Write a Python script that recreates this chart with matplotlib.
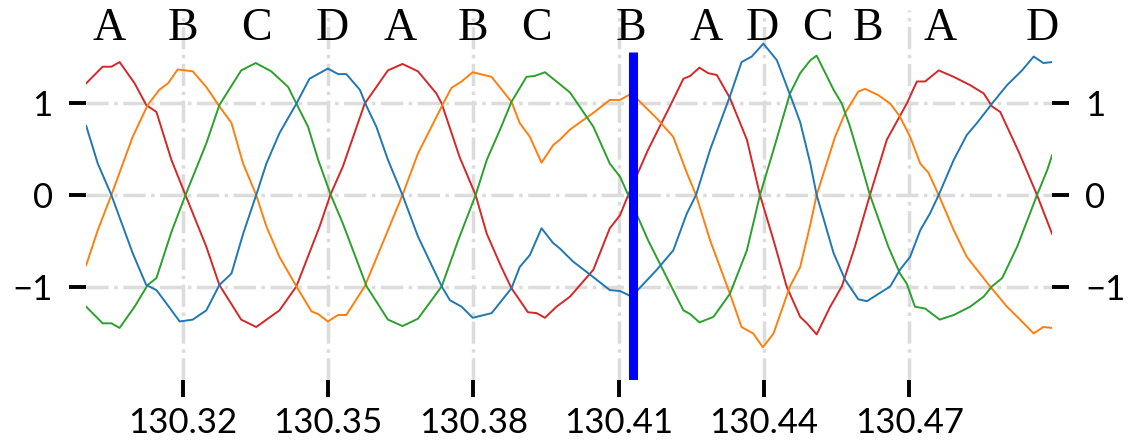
import numpy as np
import matplotlib.pyplot as plt

# phase A (red)
a_x = [130.3001, 130.3035, 130.3053, 130.3070, 130.3101, 130.3125, 130.3146, 130.3177, 130.3206,
       130.3249, 130.3276, 130.3321, 130.3352, 130.3400, 130.3435, 130.3483, 130.3505, 130.3531,
       130.3576, 130.3624, 130.3654, 130.3686, 130.3724, 130.3735, 130.3772, 130.3805, 130.3828,
       130.3858, 130.3879, 130.3913, 130.3931, 130.3948, 130.3972, 130.4000, 130.4048, 130.4082,
       130.4103, 130.4120, 130.4161, 130.4206, 130.4234, 130.4248, 130.4267, 130.4285, 130.4303,
       130.4330, 130.4365, 130.4392, 130.4420, 130.4447, 130.4475, 130.4489, 130.4509, 130.4537,
       130.4561, 130.4588, 130.4619, 130.4654, 130.4695, 130.4716, 130.4733, 130.4761, 130.4792,
       130.4826, 130.4854, 130.4871, 130.4888, 130.4926, 130.4964, 130.4995]
a_y = [1.21, 1.39, 1.39, 1.44, 1.21, 0.975, 0.90, 0.38, 0.0,
       -0.56, -0.975, -1.35, -1.43, -1.25, -0.99, -0.34, 0.0, 0.31,
       0.99, 1.35, 1.42, 1.34, 1.10, 0.99, 0.41, 0.0, -0.42,
       -0.78, -1.01, -1.27, -1.28, -1.33, -1.21, -1.10, -0.81, -0.36,
       -0.22, 0.0, 0.49, 0.96, 1.26, 1.29, 1.38, 1.32, 1.30,
       1.05, 0.60, 0.0, -0.49, -0.99, -1.32, -1.39, -1.51, -1.21,
       -0.99, -0.56, 0.0, 0.60, 0.99, 1.23, 1.23, 1.35, 1.28,
       1.19, 1.10, 0.96, 0.90, 0.47, 0.0, -0.42]

# phase B (orange)
b_x = [130.3001, 130.3025, 130.3053, 130.3097, 130.3128, 130.3152, 130.3170, 130.3190, 130.3221,
       130.3249, 130.3276, 130.3301, 130.3325, 130.3352, 130.3373, 130.3400, 130.3435, 130.3466,
       130.3480, 130.3500, 130.3521, 130.3538, 130.3576, 130.3621, 130.3654, 130.3686, 130.3738,
       130.3755, 130.3776, 130.3799, 130.3838, 130.3879, 130.3896, 130.3917, 130.3941, 130.3965,
       130.3979, 130.4000, 130.4048, 130.4082, 130.4103, 130.4127, 130.4179, 130.4213, 130.4241,
       130.4260, 130.4289, 130.4330, 130.4354, 130.4378, 130.4398, 130.4420, 130.4454, 130.4475,
       130.4496, 130.4509, 130.4547, 130.4568, 130.4595, 130.4609, 130.4637, 130.4661, 130.4681,
       130.4702, 130.4723, 130.4740, 130.4761, 130.4792, 130.4819, 130.4867, 130.4902, 130.4929,
       130.4957, 130.4977, 130.4995]
b_y = [-0.76, -0.38, 0.0, 0.63, 0.975, 1.14, 1.21, 1.36, 1.34,
       1.17, 0.96, 0.78, 0.34, 0.0, -0.34, -0.67, -0.99, -1.26,
       -1.29, -1.37, -1.30, -1.30, -0.99, -0.42, 0.0, 0.45, 0.99,
       1.16, 1.23, 1.33, 1.28, 1.01, 0.78, 0.63, 0.35, 0.54,
       0.60, 0.71, 0.89, 1.03, 1.03, 1.10, 0.83, 0.63, 0.24,
       0.0, -0.49, -1.07, -1.43, -1.50, -1.65, -1.50, -0.99, -0.78,
       -0.32, 0.0, 0.63, 0.89, 1.12, 1.15, 1.08, 0.99, 0.85,
       0.63, 0.34, 0.24, 0.0, -0.38, -0.67, -0.99, -1.21, -1.35,
       -1.50, -1.43, -1.44]

# phase C (green)
c_x = [130.3001, 130.3035, 130.3053, 130.3070, 130.3101, 130.3128, 130.3146, 130.3177, 130.3206,
       130.3249, 130.3276, 130.3321, 130.3351, 130.3383, 130.3418, 130.3435, 130.3459, 130.3480,
       130.3506, 130.3531, 130.3580, 130.3624, 130.3654, 130.3686, 130.3735, 130.3769, 130.3805,
       130.3828, 130.3858, 130.3879, 130.3910, 130.3927, 130.3948, 130.3972, 130.4000, 130.4048,
       130.4082, 130.4103, 130.4120, 130.4161, 130.4206, 130.4234, 130.4248, 130.4267, 130.4296,
       130.4330, 130.4365, 130.4392, 130.4420, 130.4454, 130.4475, 130.4496, 130.4509, 130.4544,
       130.4561, 130.4578, 130.4606, 130.4619, 130.4657, 130.4681, 130.4695, 130.4712, 130.4733,
       130.4763, 130.4792, 130.4826, 130.4854, 130.4871, 130.4892, 130.4923, 130.4964, 130.4985,
       130.4995]
c_y = [-1.21, -1.39, -1.39, -1.44, -1.21, -0.975, -0.90, -0.40, 0.0,
       0.56, 0.975, 1.35, 1.43, 1.34, 1.17, 0.99, 0.74, 0.38,
       0.0, -0.31, -0.99, -1.35, -1.42, -1.34, -0.99, -0.49, 0.0,
       0.38, 0.74, 1.01, 1.28, 1.29, 1.33, 1.23, 1.11, 0.74,
       0.34, 0.20, 0.0, -0.49, -0.96, -1.25, -1.29, -1.38, -1.32,
       -1.07, -0.60, 0.0, 0.49, 1.10, 1.32, 1.46, 1.51, 1.14,
       0.99, 0.74, 0.24, 0.0, -0.56, -0.85, -0.96, -1.21, -1.23,
       -1.35, -1.30, -1.21, -1.10, -0.99, -0.90, -0.56, 0.0, 0.27,
       0.43]

# phase D (blue)
d_x = [130.3001, 130.3025, 130.3053, 130.3097, 130.3125, 130.3146, 130.3166, 130.3194, 130.3221,
       130.3249, 130.3276, 130.3301, 130.3325, 130.3352, 130.3373, 130.3400, 130.3435, 130.3462,
       130.3476, 130.3500, 130.3521, 130.3538, 130.3566, 130.3580, 130.3600, 130.3624, 130.3654,
       130.3686, 130.3735, 130.3752, 130.3776, 130.3799, 130.3838, 130.3879, 130.3896, 130.3917,
       130.3941, 130.3965, 130.3979, 130.4006, 130.4048, 130.4082, 130.4103, 130.4127, 130.4179,
       130.4213, 130.4241, 130.4260, 130.4289, 130.4330, 130.4354, 130.4375, 130.4399, 130.4427,
       130.4461, 130.4475, 130.4496, 130.4509, 130.4544, 130.4568, 130.4595, 130.4613, 130.4637,
       130.4661, 130.4681, 130.4702, 130.4723, 130.4743, 130.4761, 130.4792, 130.4819, 130.4840,
       130.4871, 130.4902, 130.4933, 130.4957, 130.4977, 130.4995]
d_y = [0.75, 0.34, 0.0, -0.63, -0.975, -1.03, -1.17, -1.37, -1.35,
       -1.25, -0.975, -0.85, -0.42, 0.0, 0.34, 0.67, 0.99, 1.26,
       1.30, 1.37, 1.31, 1.31, 1.14, 0.96, 0.74, 0.38, 0.0,
       -0.45, -0.99, -1.14, -1.21, -1.33, -1.28, -1.01, -0.78, -0.65,
       -0.36, -0.52, -0.58, -0.72, -0.89, -1.03, -1.04, -1.10, -0.81,
       -0.60, -0.20, 0.0, 0.49, 1.07, 1.44, 1.50, 1.64, 1.46,
       0.99, 0.79, 0.34, 0.0, -0.63, -0.92, -1.13, -1.15, -1.07,
       -0.99, -0.81, -0.67, -0.38, -0.20, 0.0, 0.38, 0.65, 0.78,
       0.99, 1.19, 1.35, 1.50, 1.43, 1.44]

# labels over the peaks
peak_x = [130.3049, 130.3200, 130.3353, 130.3510, 130.3650, 130.3799, 130.3931,
          130.4126, 130.4281, 130.4396, 130.4510, 130.4615, 130.4764, 130.4975]
peak_lbl = ['A', 'B', 'C', 'D', 'A', 'B', 'C', 'B', 'A', 'D', 'C', 'B', 'A', 'D']

marker_x = 130.4130
xticks = [130.32, 130.35, 130.38, 130.41, 130.44, 130.47]
yticks = [-1, 0, 1]

plt.rcParams['font.family'] = ['Lato', 'DejaVu Sans']

fig = plt.figure(figsize=(11.31, 4.41), dpi=100)
ax = fig.add_axes([0.0762, 0.1392, 0.854, 0.8372])

ax.plot(a_x, a_y, color='tab:red', lw=1.4)
ax.plot(b_x, b_y, color='tab:orange', lw=1.4)
ax.plot(c_x, c_y, color='tab:green', lw=1.4)
ax.plot(d_x, d_y, color='tab:blue', lw=1.4)

ax.plot([marker_x, marker_x], [-2, 1.55], color='#0000ff', lw=6.5, solid_capstyle='butt', zorder=5)

for x, s in zip(peak_x, peak_lbl):
    ax.text(x, 1.80, s, ha='center', va='center', fontsize=33, family='Liberation Serif')

ax.set_xlim(min(a_x), max(a_x))
ax.set_ylim(-2, 2)
ax.set_xticks(xticks)
ax.set_xticklabels([f'{t:.2f}' for t in xticks])
ax.set_yticks(yticks)
ax.set_yticklabels(['\u22121', '0', '1'])

ax.grid(True, color='#dcdcdc', linestyle='-.', linewidth=2.5)
ax.set_axisbelow(True)
for sp in ax.spines.values():
    sp.set_visible(False)

ax.tick_params(axis='both', direction='out', length=12, width=2.8, labelsize=25)
ax.tick_params(axis='x', pad=8)
ax.tick_params(axis='y', pad=12, right=True, labelright=True)

fig.savefig('out.png', dpi=100)
